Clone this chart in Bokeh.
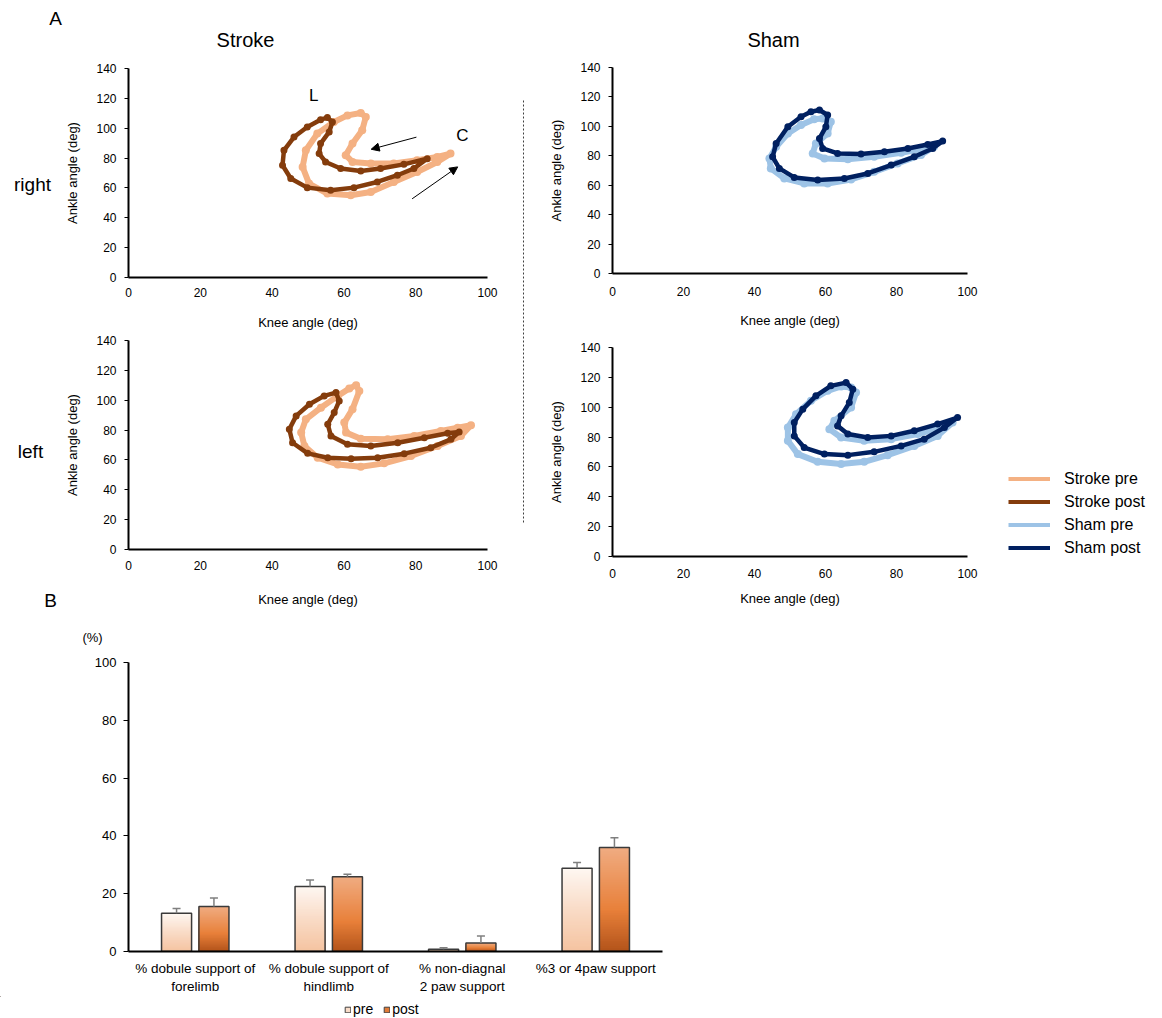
from bokeh.plotting import figure
from bokeh.layouts import column, row
from bokeh.models import (Range1d, FactorRange, Label, Legend, LegendItem, Arrow,
                          NormalHead, ColumnDataSource, FixedTicker)
from bokeh.transform import dodge
from bokeh.core.properties import value
from bokeh.embed import file_html
from bokeh.resources import INLINE

FONT = "Liberation Sans"

# ---------------- DATA ----------------
# Stroke, right hindlimb (knee angle, ankle angle)
stroke_right_pre_knee = [64.7, 66.1, 65.1, 62.4, 60.5, 62.4, 67.5, 73.9, 80.4, 86.0, 89.7, 86.0, 80.4, 73.9,
                         67.5, 61.9, 55.4, 50.3, 48.5, 49.4, 52.6, 57.2, 61.0]
stroke_right_pre_ankle = [110.2, 107.5, 98.6, 89.7, 81.9, 77.4, 76.3, 76.3, 78.5, 80.7, 83.0, 77.4, 70.7, 64.0,
                          57.3, 55.1, 56.2, 62.9, 74.0, 85.2, 96.4, 104.2, 108.6]
stroke_right_post_knee = [55.4, 56.8, 55.9, 53.5, 53.1, 54.9, 59.1, 64.7, 70.2, 76.7, 83.2, 79.5, 74.9, 69.3,
                          62.8, 56.3, 49.8, 45.2, 42.9, 43.3, 46.1, 49.8, 53.5]
stroke_right_post_ankle = [107.1, 104.2, 97.5, 89.7, 83.0, 77.4, 73.0, 71.4, 73.0, 75.8, 79.6, 73.0, 68.5, 64.0,
                           60.2, 58.4, 60.2, 66.3, 75.2, 85.2, 94.1, 100.8, 105.7]
# Sham, right
sham_right_pre_knee = [59.2, 61.5, 60.6, 57.3, 56.4, 59.7, 66.3, 73.7, 81.3, 87.8, 90.6, 86.9, 80.3, 73.7,
                       67.2, 60.6, 54.0, 48.4, 44.6, 44.2, 46.1, 49.4, 53.1, 56.8]
sham_right_pre_ankle = [105.4, 103.1, 95.2, 88.4, 81.6, 78.2, 77.6, 79.3, 82.0, 85.0, 86.1, 80.5, 74.8, 69.1,
                        63.9, 61.2, 61.2, 64.6, 71.4, 78.2, 86.1, 95.2, 100.9, 104.8]
sham_right_post_knee = [58.3, 60.6, 60.1, 58.3, 59.2, 63.4, 70.0, 76.6, 83.2, 88.8, 93.0, 90.2, 85.0, 78.5,
                        71.9, 65.3, 57.8, 51.2, 47.0, 45.1, 46.1, 49.4, 53.1, 55.9]
sham_right_post_ankle = [111.1, 107.7, 99.7, 91.8, 85.0, 81.6, 81.2, 82.7, 85.0, 87.7, 90.0, 85.0, 79.3, 73.7,
                         68.0, 64.6, 63.5, 65.3, 71.4, 79.3, 88.4, 99.7, 106.5, 109.9]
# Stroke, left
stroke_left_pre_knee = [63.4, 64.3, 62.4, 60.1, 60.6, 64.7, 72.2, 79.6, 87.0, 91.7, 95.4, 92.6, 86.1, 78.7,
                        71.2, 64.7, 58.3, 52.7, 49.0, 48.1, 49.4, 53.6, 58.3, 61.5]
stroke_left_pre_ankle = [110.1, 106.2, 94.0, 85.0, 78.3, 74.2, 73.8, 76.0, 79.4, 81.6, 83.2, 76.0, 69.3, 62.6,
                         57.7, 55.4, 57.0, 61.5, 69.3, 78.3, 87.2, 95.0, 102.9, 107.8]
stroke_left_post_knee = [57.8, 58.7, 57.3, 55.5, 56.4, 61.0, 67.5, 75.0, 82.4, 88.9, 92.1, 89.8, 84.2, 76.8,
                         69.4, 62.0, 55.5, 49.9, 45.7, 44.8, 46.7, 50.4, 54.5]
stroke_left_post_ankle = [105.1, 99.5, 91.7, 83.9, 76.0, 70.5, 69.3, 71.5, 74.9, 77.9, 78.7, 73.8, 68.2, 64.2,
                          61.5, 60.8, 61.5, 64.4, 71.5, 80.5, 89.5, 97.3, 102.9]
# Sham, left
sham_left_pre_knee = [67.2, 68.6, 67.2, 62.5, 61.1, 64.4, 70.9, 78.5, 86.0, 92.5, 95.8, 91.6, 85.0, 77.5,
                      70.9, 64.4, 57.8, 52.2, 49.4, 49.4, 51.7, 55.9, 60.6, 64.4]
sham_left_pre_ankle = [113.2, 109.8, 99.8, 90.9, 85.3, 79.7, 77.5, 78.6, 82.0, 86.4, 89.7, 80.8, 74.1, 67.9,
                       63.4, 61.9, 63.4, 68.6, 77.5, 86.4, 95.3, 104.3, 111.0, 113.9]
sham_left_post_knee = [65.8, 67.7, 66.7, 64.4, 63.4, 66.3, 71.9, 78.5, 85.0, 91.6, 97.2, 93.5, 87.8, 81.3,
                       73.7, 66.3, 59.7, 54.0, 51.2, 51.2, 53.6, 57.3, 61.5]
sham_left_post_ankle = [116.5, 112.1, 103.1, 94.2, 87.5, 82.0, 79.7, 80.8, 84.2, 88.7, 93.1, 86.4, 78.6, 74.1,
                        70.1, 67.9, 68.6, 73.0, 80.8, 89.8, 98.7, 107.6, 114.3]

x_ticks = [0, 20, 40, 60, 80, 100]
y_ticks = [0, 20, 40, 60, 80, 100, 120, 140]
legend_labels = ["Stroke pre", "Stroke post", "Sham pre", "Sham post"]

# Bar chart (B)
categories = ["% dobule support of\nforelimb", "% dobule support of\nhindlimb",
              "% non-diagnal\n2 paw support", "%3 or 4paw support"]
pre_values = [13.2, 22.5, 0.8, 28.8]
pre_errors = [1.7, 2.2, 0.5, 2.0]
post_values = [15.6, 25.9, 2.9, 36.0]
post_errors = [2.9, 0.8, 2.5, 3.4]
bar_ticks = [0, 20, 40, 60, 80, 100]
bar_legend_labels = ["pre", "post"]

# annotation arrows in the stroke/right panel (knee, ankle)
arrow1 = dict(x_start=80.2, y_start=94.0, x_end=67.6, y_end=85.9)
arrow2 = dict(x_start=79.0, y_start=52.7, x_end=91.7, y_end=74.1)

# ---------------- STYLE ----------------
C_STROKE_PRE = "#f4b183"
C_STROKE_POST = "#843c0c"
C_SHAM_PRE = "#9dc3e6"
C_SHAM_POST = "#002060"
LEGEND_COLORS = [C_STROKE_PRE, C_STROKE_POST, C_SHAM_PRE, C_SHAM_POST]
OFFSCREEN = -1.0e6   # dummy location for legend-only renderers (never visible)


def style_axes(p, xs, xas, ys=8, yas=13):
    p.grid.visible = False
    p.outline_line_color = None
    for ax in p.axis:
        ax.axis_line_color = "black"
        ax.axis_line_width = 2
        ax.major_label_text_font = FONT
        ax.major_label_text_font_size = "12px"
        ax.major_label_text_color = "black"
        ax.axis_label_text_font = FONT
        ax.axis_label_text_font_size = "13px"
        ax.axis_label_text_font_style = "normal"
        ax.axis_label_text_color = "black"
        ax.minor_tick_line_color = None
        ax.major_tick_in = 0
        ax.major_tick_line_color = "black"
    p.xaxis.major_tick_out = 0
    p.yaxis.major_tick_out = 4
    p.xaxis.major_label_standoff = xs
    p.xaxis.axis_label_standoff = xas
    p.yaxis.major_label_standoff = ys
    p.yaxis.axis_label_standoff = yas


def scatter_fig(width, height, bl, br, bt, bb, xs, xas):
    p = figure(width=width, height=height, x_range=Range1d(0, 100), y_range=Range1d(0, 140),
               output_backend="svg", toolbar_location=None,
               min_border_left=bl, min_border_right=br, min_border_top=bt, min_border_bottom=bb)
    p.xaxis.ticker = FixedTicker(ticks=x_ticks)
    p.yaxis.ticker = FixedTicker(ticks=y_ticks)
    p.xaxis.axis_label = "Knee angle (deg)"
    p.yaxis.axis_label = "Ankle angle (deg)"
    style_axes(p, xs, xas)
    return p


def strip(width, height, x0, y0):
    """A blank figure whose data units are page pixels, used to hold free text."""
    p = figure(width=width, height=height, x_range=Range1d(x0, x0 + width),
               y_range=Range1d(y0 + height, y0), output_backend="svg", toolbar_location=None,
               min_border=0, x_axis_location=None, y_axis_location=None)
    p.grid.visible = False
    p.outline_line_color = None
    p.frame_align = False
    return p


def text(p, x, y, t, size):
    p.text(x=[x], y=[y], text=[t], text_font=value(FONT), text_font_size=value(size),
           text_color="black", text_align="center", text_baseline="middle")


def loop(p, kx, ay, color, lw, size):
    p.patch(kx, ay, fill_color=None, line_color=color, line_width=lw, line_join="round")
    p.scatter(kx, ay, size=size, fill_color=color, line_color=None)


# ---------------- TOP STRIP ----------------
top = strip(1160, 58, 0, 0)
text(top, 55, 18, "A", "19px")
text(top, 245, 39, "Stroke", "20px")
text(top, 773, 39, "Sham", "20px")

# ---------------- LEFT STRIP ----------------
left = strip(58, 554, 0, 58)
text(left, 32, 184, "right", "19px")
text(left, 30, 451, "left", "19px")
text(left, 50, 600, "B", "19px")

# Top-left: stroke right
tl = scatter_fig(460, 277, 70, 31, 10, 58, 10, 15)
loop(tl, stroke_right_pre_knee, stroke_right_pre_ankle, C_STROKE_PRE, 6, 8)
loop(tl, stroke_right_post_knee, stroke_right_post_ankle, C_STROKE_POST, 4.5, 7)
for a in (arrow1, arrow2):
    tl.add_layout(Arrow(end=NormalHead(size=8, fill_color="black", line_color="black"),
                        line_color="black", line_width=1, **a))
tl.add_layout(Label(x=51.6, y=121.9, text="L", text_font=FONT, text_font_size="17px",
                    text_align="center", text_baseline="middle", text_color="black"))
tl.add_layout(Label(x=93.0, y=95.3, text="C", text_font=FONT, text_font_size="17px",
                    text_align="center", text_baseline="middle", text_color="black"))

# Bottom-left: stroke left
bl = scatter_fig(460, 277, 70, 31, 5, 63, 11, 19)
loop(bl, stroke_left_pre_knee, stroke_left_pre_ankle, C_STROKE_PRE, 6, 8)
loop(bl, stroke_left_post_knee, stroke_left_post_ankle, C_STROKE_POST, 4.5, 7)

# Divider (dashed vertical line between Stroke and Sham)
div = strip(10, 554, 518, 58)
div.segment(x0=[523], y0=[100], x1=[523], y1=[522], line_color="#404040", line_width=1,
            line_dash="2 2")

# Top-right: sham right
tr = scatter_fig(459, 277, 84, 20, 9, 62, 13, 14)
loop(tr, sham_right_pre_knee, sham_right_pre_ankle, C_SHAM_PRE, 6, 8)
loop(tr, sham_right_post_knee, sham_right_post_ankle, C_SHAM_POST, 4.5, 7)

# Bottom-right: sham left
br = scatter_fig(459, 277, 84, 20, 12, 56, 12, 10)
loop(br, sham_left_pre_knee, sham_left_pre_ankle, C_SHAM_PRE, 6, 8)
loop(br, sham_left_post_knee, sham_left_post_ankle, C_SHAM_POST, 4.5, 7)

# Right strip with legend
right = strip(173, 554, 987, 58)
items = []
for name, col in zip(legend_labels, LEGEND_COLORS):
    r = right.line(x=[OFFSCREEN, OFFSCREEN + 1], y=[OFFSCREEN, OFFSCREEN], line_color=col, line_width=4)
    items.append(LegendItem(label=name, renderers=[r]))
lg = Legend(items=items, location=(21, 53), padding=0, margin=0, spacing=0,
            glyph_width=42, glyph_height=23, label_height=23, label_standoff=14,
            label_text_font=FONT, label_text_font_size="16px", label_text_color="black",
            border_line_color=None, background_fill_color=None)
right.add_layout(lg)

# ---------------- BAR CHART ----------------
bar_top = strip(702, 41, 0, 612)
text(bar_top, 92, 636.7, "(%)", "13px")

bp = figure(width=702, height=343, x_range=FactorRange(factors=categories, range_padding=0),
            y_range=Range1d(0, 100), output_backend="svg", toolbar_location=None,
            min_border_left=128, min_border_right=40, min_border_top=9, min_border_bottom=45)
bp.frame_align = False
bp.yaxis.ticker = FixedTicker(ticks=bar_ticks)
style_axes(bp, 9, 0, ys=7)
bp.yaxis.major_tick_out = 5
bp.yaxis.major_label_text_font_size = "13px"
bp.xaxis.major_label_text_font_size = "13.5px"


def hexmix(stops, t):
    for (t0, c0), (t1, c1) in zip(stops[:-1], stops[1:]):
        if t0 <= t <= t1:
            f = (t - t0) / (t1 - t0)
            a = [int(c0[i:i + 2], 16) for i in (1, 3, 5)]
            b = [int(c1[i:i + 2], 16) for i in (1, 3, 5)]
            return "#%02x%02x%02x" % tuple(round(a[k] + (b[k] - a[k]) * f) for k in range(3))
    return stops[-1][1]


PRE_STOPS = [(0.0, "#f5c3a0"), (0.5, "#f9dbc6"), (1.0, "#fef7f2")]
POST_STOPS = [(0.0, "#b2531a"), (0.4, "#e8803a"), (1.0, "#f0ac82")]
N = 60
BW = 0.225
OFF = 0.14

for vals, errs, off, stops in ((pre_values, pre_errors, -OFF, PRE_STOPS),
                               (post_values, post_errors, OFF, POST_STOPS)):
    cs, tops, cols = [], [], []
    # overlapping bars from the base, tallest first, give a smooth vertical gradient
    for i in range(N, 0, -1):
        for c, v in zip(categories, vals):
            cs.append(c)
            tops.append(v * i / N)
            cols.append(hexmix(stops, (i - 0.5) / N))
    src = ColumnDataSource(dict(cat=cs, top=tops, color=cols))
    bp.vbar(x=dodge("cat", off, range=bp.x_range), bottom=0, top="top", width=BW,
            source=src, fill_color="color", line_color=None)
    s2 = ColumnDataSource(dict(cat=categories, top=vals, etop=[v + e for v, e in zip(vals, errs)]))
    bp.vbar(x=dodge("cat", off, range=bp.x_range), top="top", bottom=0, width=BW, source=s2,
            fill_color=None, line_color="#3a3a3a", line_width=1.5)
    bp.segment(x0=dodge("cat", off, range=bp.x_range), y0="top", x1=dodge("cat", off, range=bp.x_range),
               y1="etop", source=s2, line_color="#7f7f7f", line_width=1.5)
    bp.segment(x0=dodge("cat", off - 0.03, range=bp.x_range), y0="etop",
               x1=dodge("cat", off + 0.03, range=bp.x_range), y1="etop", source=s2,
               line_color="#7f7f7f", line_width=1.5)

bar_bottom = strip(702, 21, 0, 996)
r_pre = bar_bottom.vbar(x=[OFFSCREEN], top=[OFFSCREEN], width=1, fill_color="#f9dcc8",
                        line_color="#404040", line_width=1)
r_post = bar_bottom.vbar(x=[OFFSCREEN], top=[OFFSCREEN], width=1, fill_color="#e27b36",
                         line_color="#404040", line_width=1)
bar_legend = Legend(items=[LegendItem(label=bar_legend_labels[0], renderers=[r_pre]),
                           LegendItem(label=bar_legend_labels[1], renderers=[r_post])],
                    orientation="horizontal", location=(344, 0), padding=0, margin=0, spacing=10,
                    glyph_width=7, glyph_height=7, label_height=14, label_standoff=2,
                    label_text_font=FONT, label_text_font_size="14px", label_text_color="black",
                    border_line_color=None, background_fill_color=None)
bar_bottom.add_layout(bar_legend)

layout = column(top,
                row(left, column(tl, bl), div, column(tr, br), right),
                bar_top, bp, bar_bottom)
open("out.html", "w").write(file_html(layout, INLINE))
